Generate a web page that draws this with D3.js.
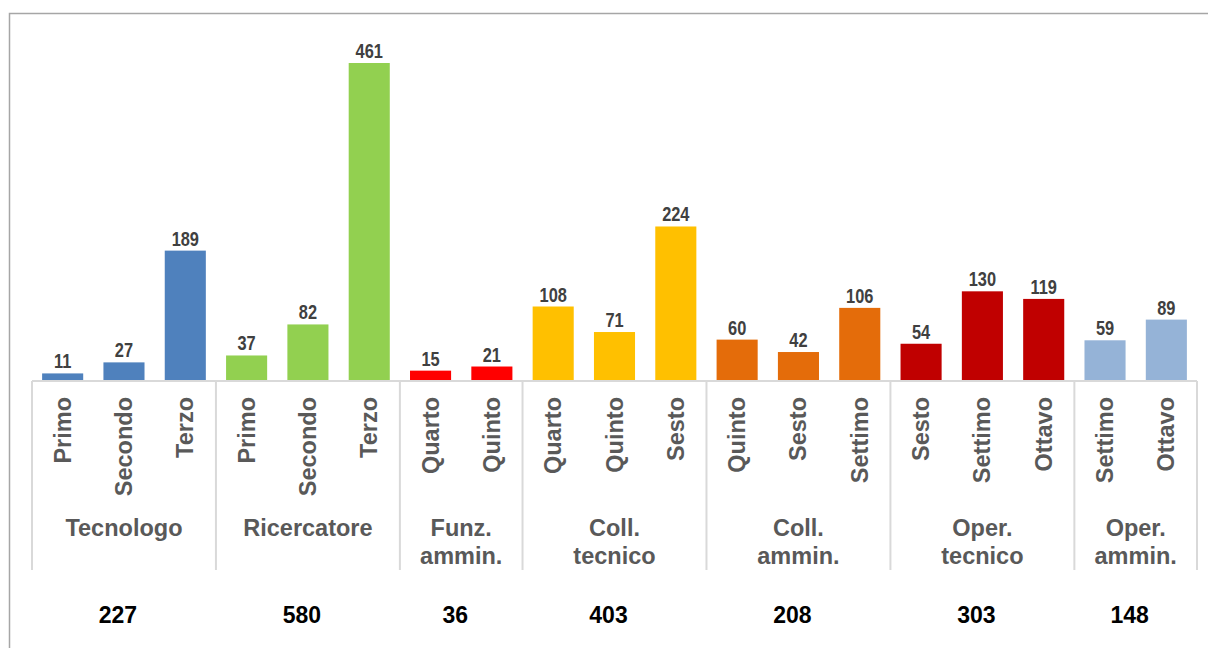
<!DOCTYPE html>
<html lang="it">
<head>
<meta charset="UTF-8">
<title>Personale per profilo e livello</title>
<script src="https://d3js.org/d3.v7.min.js"></script>
<style>
    body { margin: 0; padding: 0; background: #fff; overflow: hidden; }
    svg { display: block; }
    .val { font-family: "Liberation Sans", Arial, sans-serif; font-weight: bold; font-size: 20px; fill: #404040; }
    .sub { font-family: "Liberation Sans", Arial, sans-serif; font-weight: bold; font-size: 23.5px; fill: #595959; }
    .grp { font-family: "Liberation Sans", Arial, sans-serif; font-weight: bold; font-size: 23.5px; fill: #595959; }
    .tot { font-family: "Liberation Sans", Arial, sans-serif; font-weight: bold; font-size: 23px; fill: #000; }
</style>
</head>
<body>
<svg id="chart" width="1208" height="648"></svg>
<script>
    // profili (gruppi) e livelli
    const groups = ["Tecnologo", "Ricercatore", "Funz. ammin.", "Coll. tecnico", "Coll. ammin.", "Oper. tecnico", "Oper. ammin."];
    const groupLines = [["Tecnologo"], ["Ricercatore"], ["Funz.", "ammin."], ["Coll.", "tecnico"], ["Coll.", "ammin."], ["Oper.", "tecnico"], ["Oper.", "ammin."]];
    const levels = [
        ["Primo", "Secondo", "Terzo"],
        ["Primo", "Secondo", "Terzo"],
        ["Quarto", "Quinto"],
        ["Quarto", "Quinto", "Sesto"],
        ["Quinto", "Sesto", "Settimo"],
        ["Sesto", "Settimo", "Ottavo"],
        ["Settimo", "Ottavo"]
    ];
    const values = [
        [11, 27, 189],
        [37, 82, 461],
        [15, 21],
        [108, 71, 224],
        [60, 42, 106],
        [54, 130, 119],
        [59, 89]
    ];
    const colors = ["#4f81bd", "#92d050", "#ff0000", "#ffc000", "#e46c0a", "#c00000", "#95b3d7"];

    const rows = [];
    groups.forEach((g, gi) => {
        levels[gi].forEach((l, li) => {
            rows.push({ key: gi + "|" + l, group: gi, level: l, value: values[gi][li] });
        });
    });

    const svg = d3.select("#chart");
    const baseY = 381;
    const pad = 0.33;

    const x = d3.scaleBand()
        .domain(rows.map(d => d.key))
        .range([32, 1197])
        .paddingInner(pad)
        .paddingOuter(pad / 2);

    const y = d3.scaleLinear()
        .domain([0, 461])
        .range([baseY, 63]);

    const step = x.step();
    const slotLeft = k => x(k) - step * pad / 2;

    // cornice
    svg.append("rect")
        .attr("x", 9.5).attr("y", 13.5)
        .attr("width", 1240).attr("height", 700)
        .attr("fill", "none")
        .attr("stroke", "#a6a6a6")
        .attr("stroke-width", 1.5);

    // barre
    svg.selectAll(".bar")
        .data(rows)
        .join("rect")
        .attr("class", "bar")
        .attr("x", d => x(d.key))
        .attr("y", d => y(d.value))
        .attr("width", x.bandwidth())
        .attr("height", d => baseY - y(d.value))
        .attr("fill", d => colors[d.group]);

    // etichette valori (carattere stretto)
    svg.selectAll(".val")
        .data(rows)
        .join("text")
        .attr("class", "val")
        .attr("text-anchor", "middle")
        .attr("transform", d => `translate(${x(d.key) + x.bandwidth() / 2},${y(d.value) - 5}) scale(0.82,1)`)
        .text(d => d.value);

    // asse
    const axisColor = "#d9d9d9";
    svg.append("line")
        .attr("x1", 32).attr("x2", 1197)
        .attr("y1", baseY).attr("y2", baseY)
        .attr("stroke", axisColor).attr("stroke-width", 2);

    // separatori tra gruppi
    const bounds = [];
    groups.forEach((g, gi) => {
        const keys = rows.filter(r => r.group === gi).map(r => r.key);
        const left = slotLeft(keys[0]);
        const right = slotLeft(keys[keys.length - 1]) + step;
        bounds.push({ gi, left, right, center: (left + right) / 2 });
    });
    const sepX = [bounds[0].left].concat(bounds.map(b => b.right));
    svg.selectAll(".sep")
        .data(sepX)
        .join("line")
        .attr("class", "sep")
        .attr("x1", d => d).attr("x2", d => d)
        .attr("y1", baseY).attr("y2", 570)
        .attr("stroke", axisColor).attr("stroke-width", 2);

    // livelli (ruotati)
    svg.selectAll(".sub")
        .data(rows)
        .join("text")
        .attr("class", "sub")
        .attr("text-anchor", "end")
        .attr("transform", d => `translate(${x(d.key) + x.bandwidth() / 2 + 8},397) rotate(-90)`)
        .text(d => d.level);

    // profili
    const grp = svg.selectAll(".grp")
        .data(bounds)
        .join("text")
        .attr("class", "grp")
        .attr("text-anchor", "middle")
        .attr("x", d => d.center)
        .attr("y", 536);
    grp.selectAll("tspan")
        .data(d => groupLines[d.gi].map(t => ({ t, c: d.center })))
        .join("tspan")
        .attr("x", d => d.c)
        .attr("dy", (d, i) => i === 0 ? 0 : 28)
        .text(d => d.t);

    // totali per profilo
    svg.selectAll(".tot")
        .data(bounds)
        .join("text")
        .attr("class", "tot")
        .attr("text-anchor", "middle")
        .attr("x", d => d.center - 6)
        .attr("y", 623)
        .text(d => d3.sum(values[d.gi]));
</script>
</body>
</html>
